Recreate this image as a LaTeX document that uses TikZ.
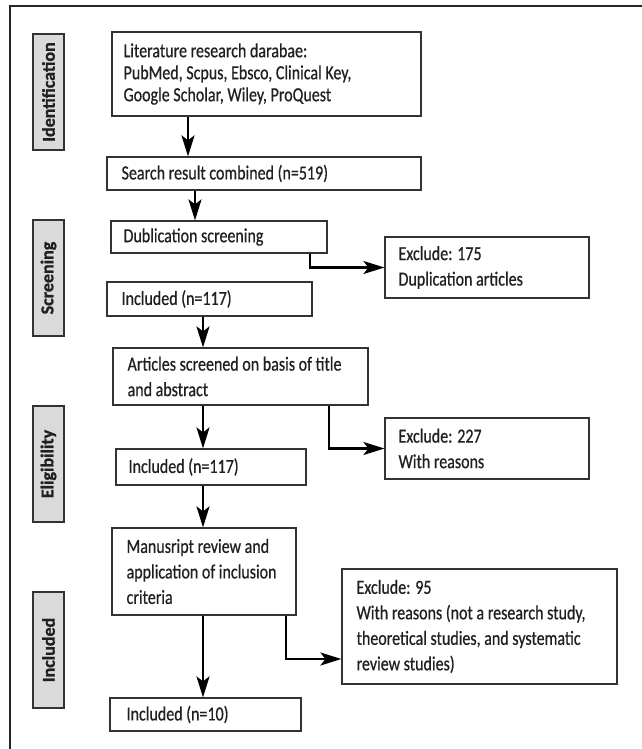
\documentclass[tikz,border=0pt]{standalone}
\usepackage{fontspec}
\setmainfont[FakeStretch=0.8,FakeBold=0.6]{Carlito}
\newfontfamily\lblfont[FakeBold=1.2]{Carlito}
\usetikzlibrary{arrows.meta}
\definecolor{boxc}{HTML}{333333}
\definecolor{txtc}{HTML}{231F20}
\definecolor{lblfill}{HTML}{DADADA}
\begin{document}
\begin{tikzpicture}[x=1pt,y=-1pt,
  every node/.style={text=txtc},
  flowbox/.style={draw=boxc, line width=1.2pt, fill=white, anchor=center, inner sep=0pt},
  flowtext/.style={anchor=west, align=left, inner sep=0pt, font=\fontsize{20}{25.5}\selectfont},
  lblbox/.style={draw=boxc, line width=1.2pt, fill=lblfill, anchor=center,
    minimum width=31pt, minimum height=116pt, inner sep=0pt},
  lbltext/.style={rotate=90, inner sep=0pt, font=\lblfont\bfseries\fontsize{18}{20}\selectfont},
  arr/.style={draw=black, line width=2.4pt, -{Stealth[length=21pt,width=13pt,inset=5pt]}}
]
\useasboundingbox (0,0) rectangle (642,749);
% outer frame (only top and left visible)
\draw[line width=2.6pt, color=black!85] (10,749) -- (10,6) -- (642,6);

% stage labels
\node[lblbox] (lid) at (48.5,92) {};
\node[lbltext] (tid) at (lid.center) {Identification};
\node[lblbox] (lsc) at (48.5,278) {};
\node[lbltext] (tsc) at (lsc.center) {Screening};
\node[lblbox] (lel) at (48.5,464) {};
\node[lbltext] (tel) at (lel.center) {Eligibility};
\node[lblbox] (lin) at (48.5,650) {};
\node[lbltext] (tin) at (lin.center) {Included};

% flow boxes
\node[flowbox, minimum width=309pt, minimum height=84pt] (lit) at (266.5,74) {};
\node[flowbox, minimum width=314pt, minimum height=33pt] (search) at (264,173.5) {};
\node[flowbox, minimum width=216pt, minimum height=32pt] (dub) at (219,237) {};
\node[flowbox, minimum width=204pt, minimum height=61pt] (ex1) at (487,267.5) {};
\node[flowbox, minimum width=205pt, minimum height=34pt] (inc1) at (209.5,299) {};
\node[flowbox, minimum width=255pt, minimum height=57pt] (art) at (240.5,376.5) {};
\node[flowbox, minimum width=204pt, minimum height=61pt] (ex2) at (487,448.5) {};
\node[flowbox, minimum width=190pt, minimum height=36pt] (inc2) at (211,467) {};
\node[flowbox, minimum width=184pt, minimum height=87pt] (man) at (204,571.5) {};
\node[flowbox, minimum width=275pt, minimum height=115pt] (ex3) at (479.5,626.5) {};
\node[flowbox, minimum width=191pt, minimum height=33pt] (inc3) at (205.5,714.5) {};

% box texts
\node[flowtext, font=\fontsize{20}{22}\selectfont] (litT) at ([xshift=12pt]lit.west)
  {Literature research darabae:\\PubMed, Scpus, Ebsco, Clinical Key,\\Google Scholar, Wiley, ProQuest};
\node[flowtext] (searchT) at ([xshift=15pt]search.west) {Search result combined (n=519)};
\node[flowtext] (dubT) at ([xshift=13pt]dub.west) {Dublication screening};
\node[flowtext] (ex1T) at ([xshift=14pt]ex1.west) {Exclude: 175\\Duplication articles};
\node[flowtext] (inc1T) at ([xshift=15pt]inc1.west) {Included (n=117)};
\node[flowtext] (artT) at ([xshift=15pt]art.west) {Articles screened on basis of title\\and abstract};
\node[flowtext] (ex2T) at ([xshift=14pt]ex2.west) {Exclude: 227\\With reasons};
\node[flowtext] (inc2T) at ([xshift=13pt]inc2.west) {Included (n=117)};
\node[flowtext] (manT) at ([xshift=15pt]man.west) {Manusript review and\\application of inclusion\\criteria};
\node[flowtext] (ex3T) at ([xshift=15pt]ex3.west) {Exclude: 95\\With reasons (not a research study,\\theoretical studies, and systematic\\review studies)};
\node[flowtext] (inc3T) at ([xshift=17pt]inc3.west) {Included (n=10)};

% helper coordinates for connector positions
\coordinate (k1) at (188,0);
\coordinate (k2) at (195,0);
\coordinate (k3) at (310,0);
\coordinate (k4) at (203,0);
\coordinate (k5) at (329,0);
\coordinate (k6) at (286,0);
\coordinate (y6) at (0,659);

% connectors
\draw[arr] (lit.south -| k1) -- (search.north -| k1);
\draw[arr] (search.south -| k2) -- (dub.north -| k2);
\draw[arr] (dub.south -| k3) |- (ex1.west);
\draw[arr] (inc1.south -| k4) -- (art.north -| k4);
\draw[arr] (art.south -| k4) -- (inc2.north -| k4);
\draw[arr] (art.south -| k5) |- (ex2.west);
\draw[arr] (inc2.south -| k4) -- (man.north -| k4);
\draw[arr] (man.south -| k4) -- (inc3.north -| k4);
\draw[arr] (man.south -| k6) |- (ex3.west |- y6);
\end{tikzpicture}
\end{document}
